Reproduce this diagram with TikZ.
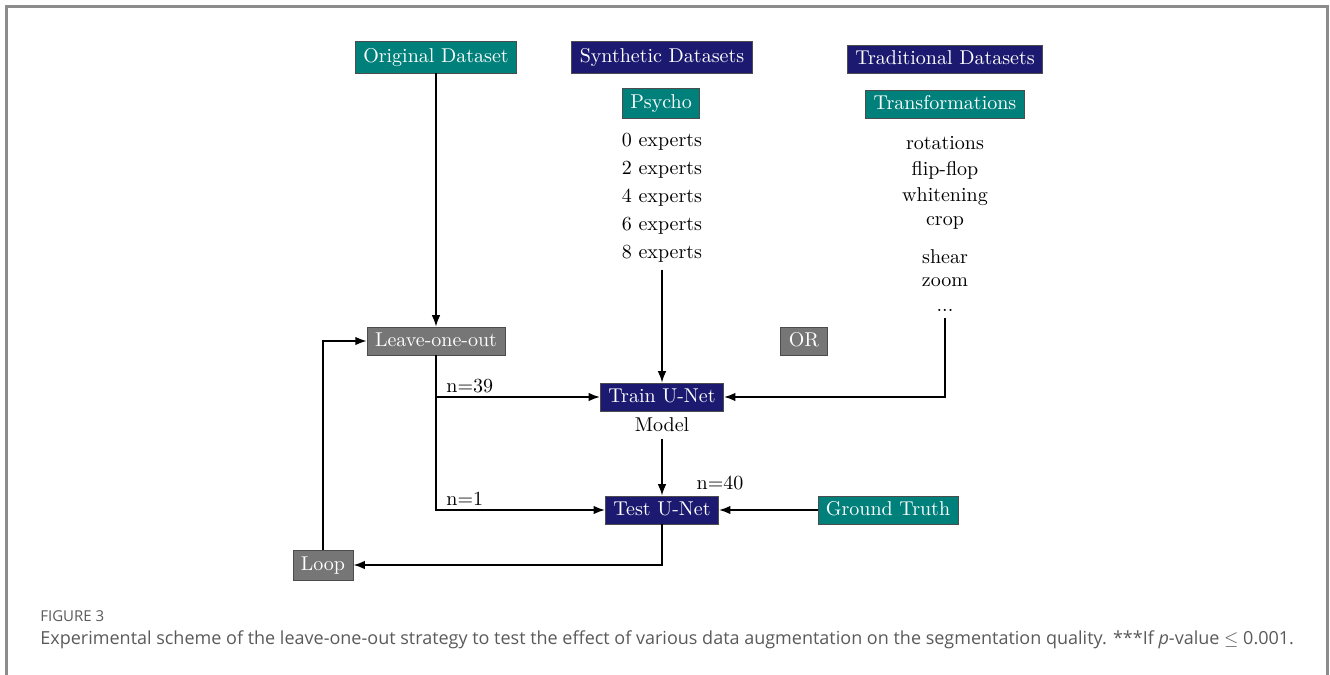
\documentclass[tikz,border=0pt]{standalone}
\usepackage{fontspec}
\usepackage{tikz}
\usetikzlibrary{arrows.meta}
\newfontfamily\capfont{Open Sans}
\definecolor{dteal}{RGB}{0,128,122}
\definecolor{dnavy}{RGB}{28,26,112}
\definecolor{dgray}{RGB}{118,118,118}
\definecolor{capgray}{RGB}{90,90,90}
\definecolor{framegray}{RGB}{140,140,140}
\tikzset{
	box/.style={draw=black!70, text=white, inner xsep=4pt, inner ysep=2pt, minimum height=14pt, text height=1.6ex, text depth=0.35ex},
	tealbox/.style={box, fill=dteal},
	navybox/.style={box, fill=dnavy},
	graybox/.style={box, fill=dgray},
	link/.style={->, line width=0.8pt},
}

\begin{document}
\begin{tikzpicture}[x=0.5pt, y=-0.5pt, every node/.style={font=\normalsize}, >={Latex[length=2mm]}]
	\useasboundingbox (0,0) rectangle (1330,675);
	\draw[framegray, line width=1.5pt] (6,675) -- (6,6) -- (1327,6) -- (1327,675);
	% sources
	\node[tealbox, minimum height=16pt] (orig) at (436,57) {Original Dataset};
	\node[navybox, minimum height=16pt] (synth) at (662,57) {Synthetic Datasets};
	\node[tealbox, minimum height=15pt] (psycho) at (661,103) {Psycho};
	\node[navybox] (trad) at (945,59) {Traditional Datasets};
	\node[tealbox] (transf) at (945,104) {Transformations};
	\foreach \n/\y in {0/142,2/170,4/198,6/226,8/254} {
		\node (e\n) at (662,\y) {\n\ experts};
	}
	\foreach \t/\y/\nm in {rotations/143/rot, flip-flop/170/flip, whitening/197/white, crop/223/crop, shear/257/shear, zoom/282/zoom} {
		\node (\nm) at (945,\y) {\t};
	}
	\node (dots) at (945,310) {...};
	% pipeline
	\node[graybox] (loo) at (436,341) {Leave-one-out};
	\node[graybox] (or) at (804,341) {OR};
	\node[navybox] (train) at (662,397) {Train U-Net};
	\node (model) at (662,425) {Model};
	\node[navybox] (test) at (662,510) {Test U-Net};
	\node[tealbox] (gt) at (888,510) {Ground Truth};
	\node[graybox, minimum height=15pt] (loop) at (323,565) {Loop};
	\coordinate (split) at (loo.south |- train.west);
	\draw[link] (orig) -- (loo);
	\draw[link] (loo.south) |- (test.west);
	\draw[link] (split) -- (train.west);
	\draw[link] (e8) -- (train);
	\draw[link] (dots.south) |- (train.east);
	\draw[link] (model) -- (test);
	\draw[link] (gt) -- (test);
	\draw[link] (test.south) |- (loop.east);
	\draw[link] (loop.north) |- (loo.west);
	\node[anchor=south west, inner sep=2pt] (n39) at ([xshift=3pt]split) {n=39};
	\node[anchor=south west, inner sep=2pt] (n1) at ([xshift=3pt]loo.south |- test.west) {n=1};
	\node (n40) at (720,483) {n=40};
	% caption
	\node[anchor=west, inner sep=0pt, text=capgray, font=\capfont\fontsize{7.5}{9}\selectfont] (fig) at (40,616) {FIGURE 3};
	\node[anchor=west, inner sep=0pt, text=capgray, font=\capfont\fontsize{9}{11}\selectfont] (cap) at (40,640) {Experimental scheme of the leave-one-out strategy to test the effect of various data augmentation on the segmentation quality. ***If \textit{p}-value $\leq$ 0.001.};
\end{tikzpicture}
\end{document}
